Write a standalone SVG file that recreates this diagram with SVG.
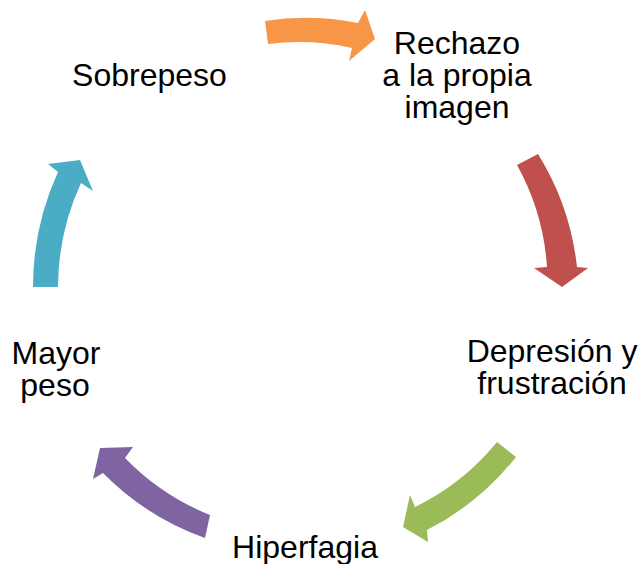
<svg xmlns="http://www.w3.org/2000/svg" width="639" height="564" viewBox="0 0 639 564">
  <style>
    .lbl { font-family: "Liberation Sans", Arial, sans-serif; font-size: 32px; fill: #000; text-anchor: middle; }
    .arrow { stroke: none; }
  </style>
  <rect width="639" height="564" fill="#fff"/>

  <!-- curved cycle arrows -->
  <g id="connectors">
    <path class="arrow" fill="#F79646" d="M265,21 A270,270 0 0 1 358,23 L365,10 L375,39 L349,61 L352,48 A246,246 0 0 0 268,44 Z"/>
    <path class="arrow" fill="#C0504D" d="M538,154 A270,270 0 0 1 577,267 L588,268 L562,287 L534,268 L547,267 A243,243 0 0 0 517,165 Z"/>
    <path class="arrow" fill="#9BBB59" d="M516,457 A268,268 0 0 1 427,530 L428,542 L403,527 L410,495 L415,507 A243,243 0 0 0 497,442 Z"/>
    <path class="arrow" fill="#8064A2" d="M205,538 A270,270 0 0 1 103,473 L93,479 L100,448 L133,447 L125,458 A246,246 0 0 0 210,515 Z"/>
    <path class="arrow" fill="#4BACC6" d="M33,287 A275,275 0 0 1 58,172 L48,164 L80,160 L93,191 L81,183 A250,250 0 0 0 58,287 Z"/>
  </g>

  <g id="sobrepeso">
    <text class="lbl" x="149.5" y="86">Sobrepeso</text>
  </g>
  <g id="rechazo">
    <text class="lbl" x="457" y="54">Rechazo</text>
    <text class="lbl" x="457" y="86">a la propia</text>
    <text class="lbl" x="457" y="118">imagen</text>
  </g>
  <g id="depresion">
    <text class="lbl" x="552" y="362">Depresión y</text>
    <text class="lbl" x="552" y="394">frustración</text>
  </g>
  <g id="hiperfagia">
    <text class="lbl" x="305" y="558">Hiperfagia</text>
  </g>
  <g id="mayor-peso">
    <text class="lbl" x="56" y="364">Mayor</text>
    <text class="lbl" x="55" y="396">peso</text>
  </g>
</svg>
